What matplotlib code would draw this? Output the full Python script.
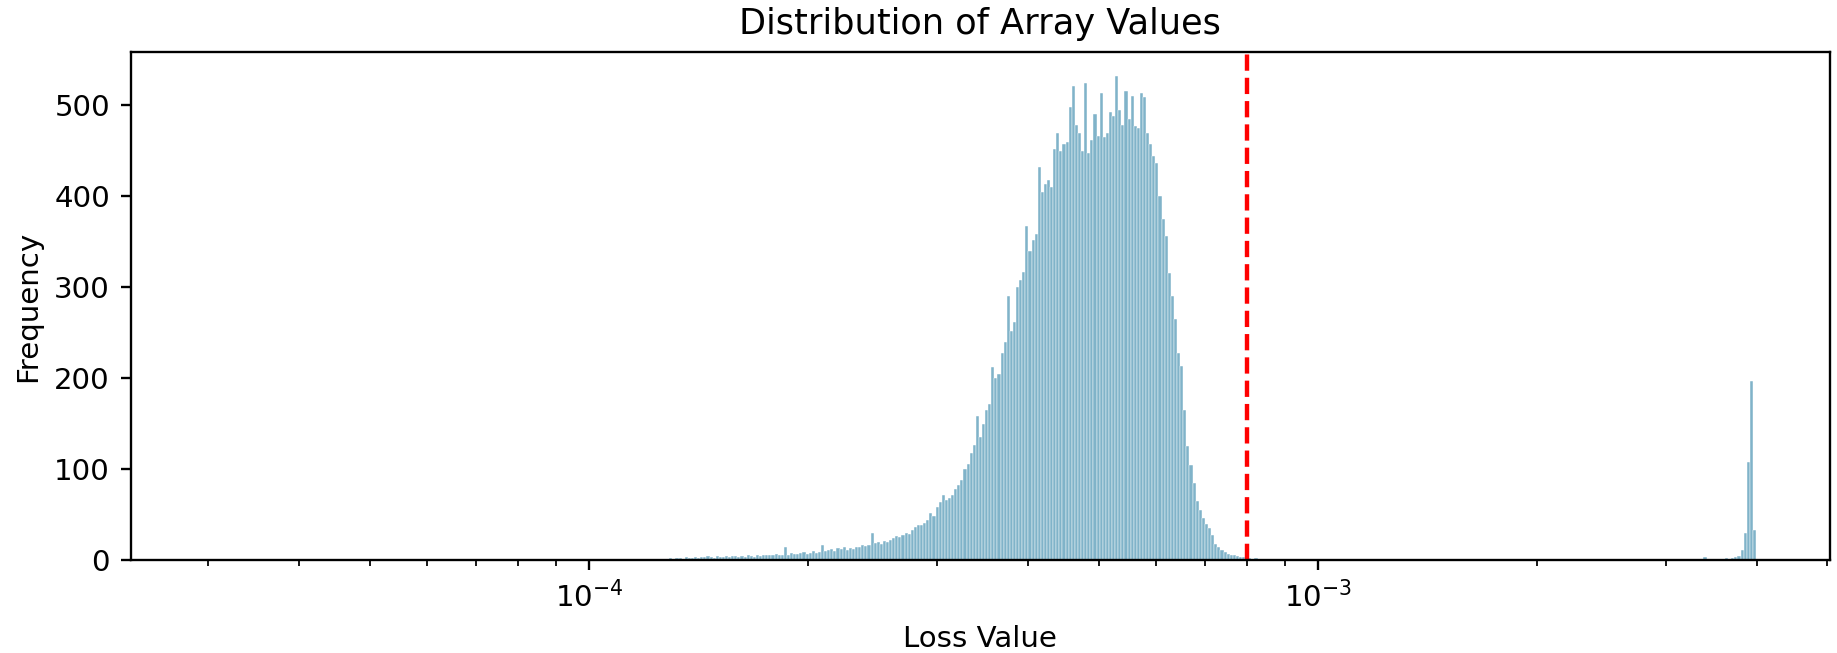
import numpy as np
import matplotlib
matplotlib.use("Agg")
import matplotlib.pyplot as plt

# histogram of loss values, 500 log-spaced bins
loss_min, loss_max = 3.0e-5, 3.99e-3
n_bins = 500
threshold = 8.0e-4

# main body of the distribution, consecutive bins starting at body_start
body_start = 1.18e-4
body_counts = [
    0, 0, 1, 0, 1, 1, 0, 1, 1, 2,
    1, 2, 2, 1, 3, 2, 2, 3, 2, 3,
    3, 4, 3, 2, 4, 3, 3, 4, 3, 4,
    4, 3, 4, 3, 5, 4, 3, 5, 4, 5,
    5, 6, 5, 7, 6, 5, 14, 6, 8, 7,
    7, 8, 9, 7, 8, 10, 8, 9, 16, 10,
    11, 12, 10, 13, 12, 14, 11, 13, 12, 14,
    14, 16, 15, 17, 30, 19, 20, 18, 21, 20,
    22, 24, 26, 25, 28, 30, 29, 33, 36, 38,
    38, 41, 44, 52, 48, 58, 64, 71, 66, 68,
    72, 78, 82, 88, 100, 106, 118, 127, 158, 135,
    150, 165, 172, 212, 200, 205, 228, 240, 290, 252,
    262, 300, 308, 317, 367, 340, 352, 358, 432, 405,
    413, 418, 410, 452, 470, 450, 457, 460, 498, 521,
    478, 470, 450, 525, 448, 462, 490, 466, 514, 465,
    470, 493, 488, 532, 495, 478, 516, 485, 510, 477,
    475, 514, 509, 470, 457, 444, 437, 400, 375, 356,
    316, 290, 265, 228, 213, 165, 125, 105, 85, 65,
    55, 46, 40, 35, 27, 18, 14, 11, 9, 7,
    6, 5, 4, 3, 3, 2, 2, 1, 2, 1,
    1, 0, 1, 1, 0, 1,
]

# isolated values in the gap
stray_values = [9.2e-4, 1.0e-3, 1.15e-3, 1.45e-3, 1.93e-3, 2.29e-3,
                2.35e-3, 2.51e-3, 2.75e-3, 3.40e-3]
stray_counts = [1, 1, 1, 1, 1, 1, 1, 1, 1, 3]

# cluster at the top end (last bins)
spike_counts = [2, 1, 2, 3, 4, 11, 30, 108, 197, 33]

edges = np.logspace(np.log10(loss_min), np.log10(loss_max), n_bins + 1)
centers = np.sqrt(edges[:-1] * edges[1:])
counts = np.zeros(n_bins)
i0 = np.searchsorted(edges, body_start) - 1
counts[i0:i0 + len(body_counts)] = body_counts
idx = np.searchsorted(edges, stray_values) - 1
counts[idx] += stray_counts
counts[-len(spike_counts):] = spike_counts

fig, ax = plt.subplots(figsize=(1837 / 211, 653 / 211), dpi=211)
ax.set_xscale("log")
ax.hist(centers, bins=edges, weights=counts, color="#80b3c9",
        edgecolor="white", linewidth=0.15)
ax.axvline(threshold, color="red", linestyle="--")
ax.set_xlim(2.35e-5, 5.04e-3)

ax.set_title("Distribution of Array Values")
ax.set_xlabel("Loss Value")
ax.set_ylabel("Frequency")

fig.subplots_adjust(left=0.0711, right=0.9962, top=0.9204, bottom=0.1424)
fig.savefig("out.png", dpi=211)
